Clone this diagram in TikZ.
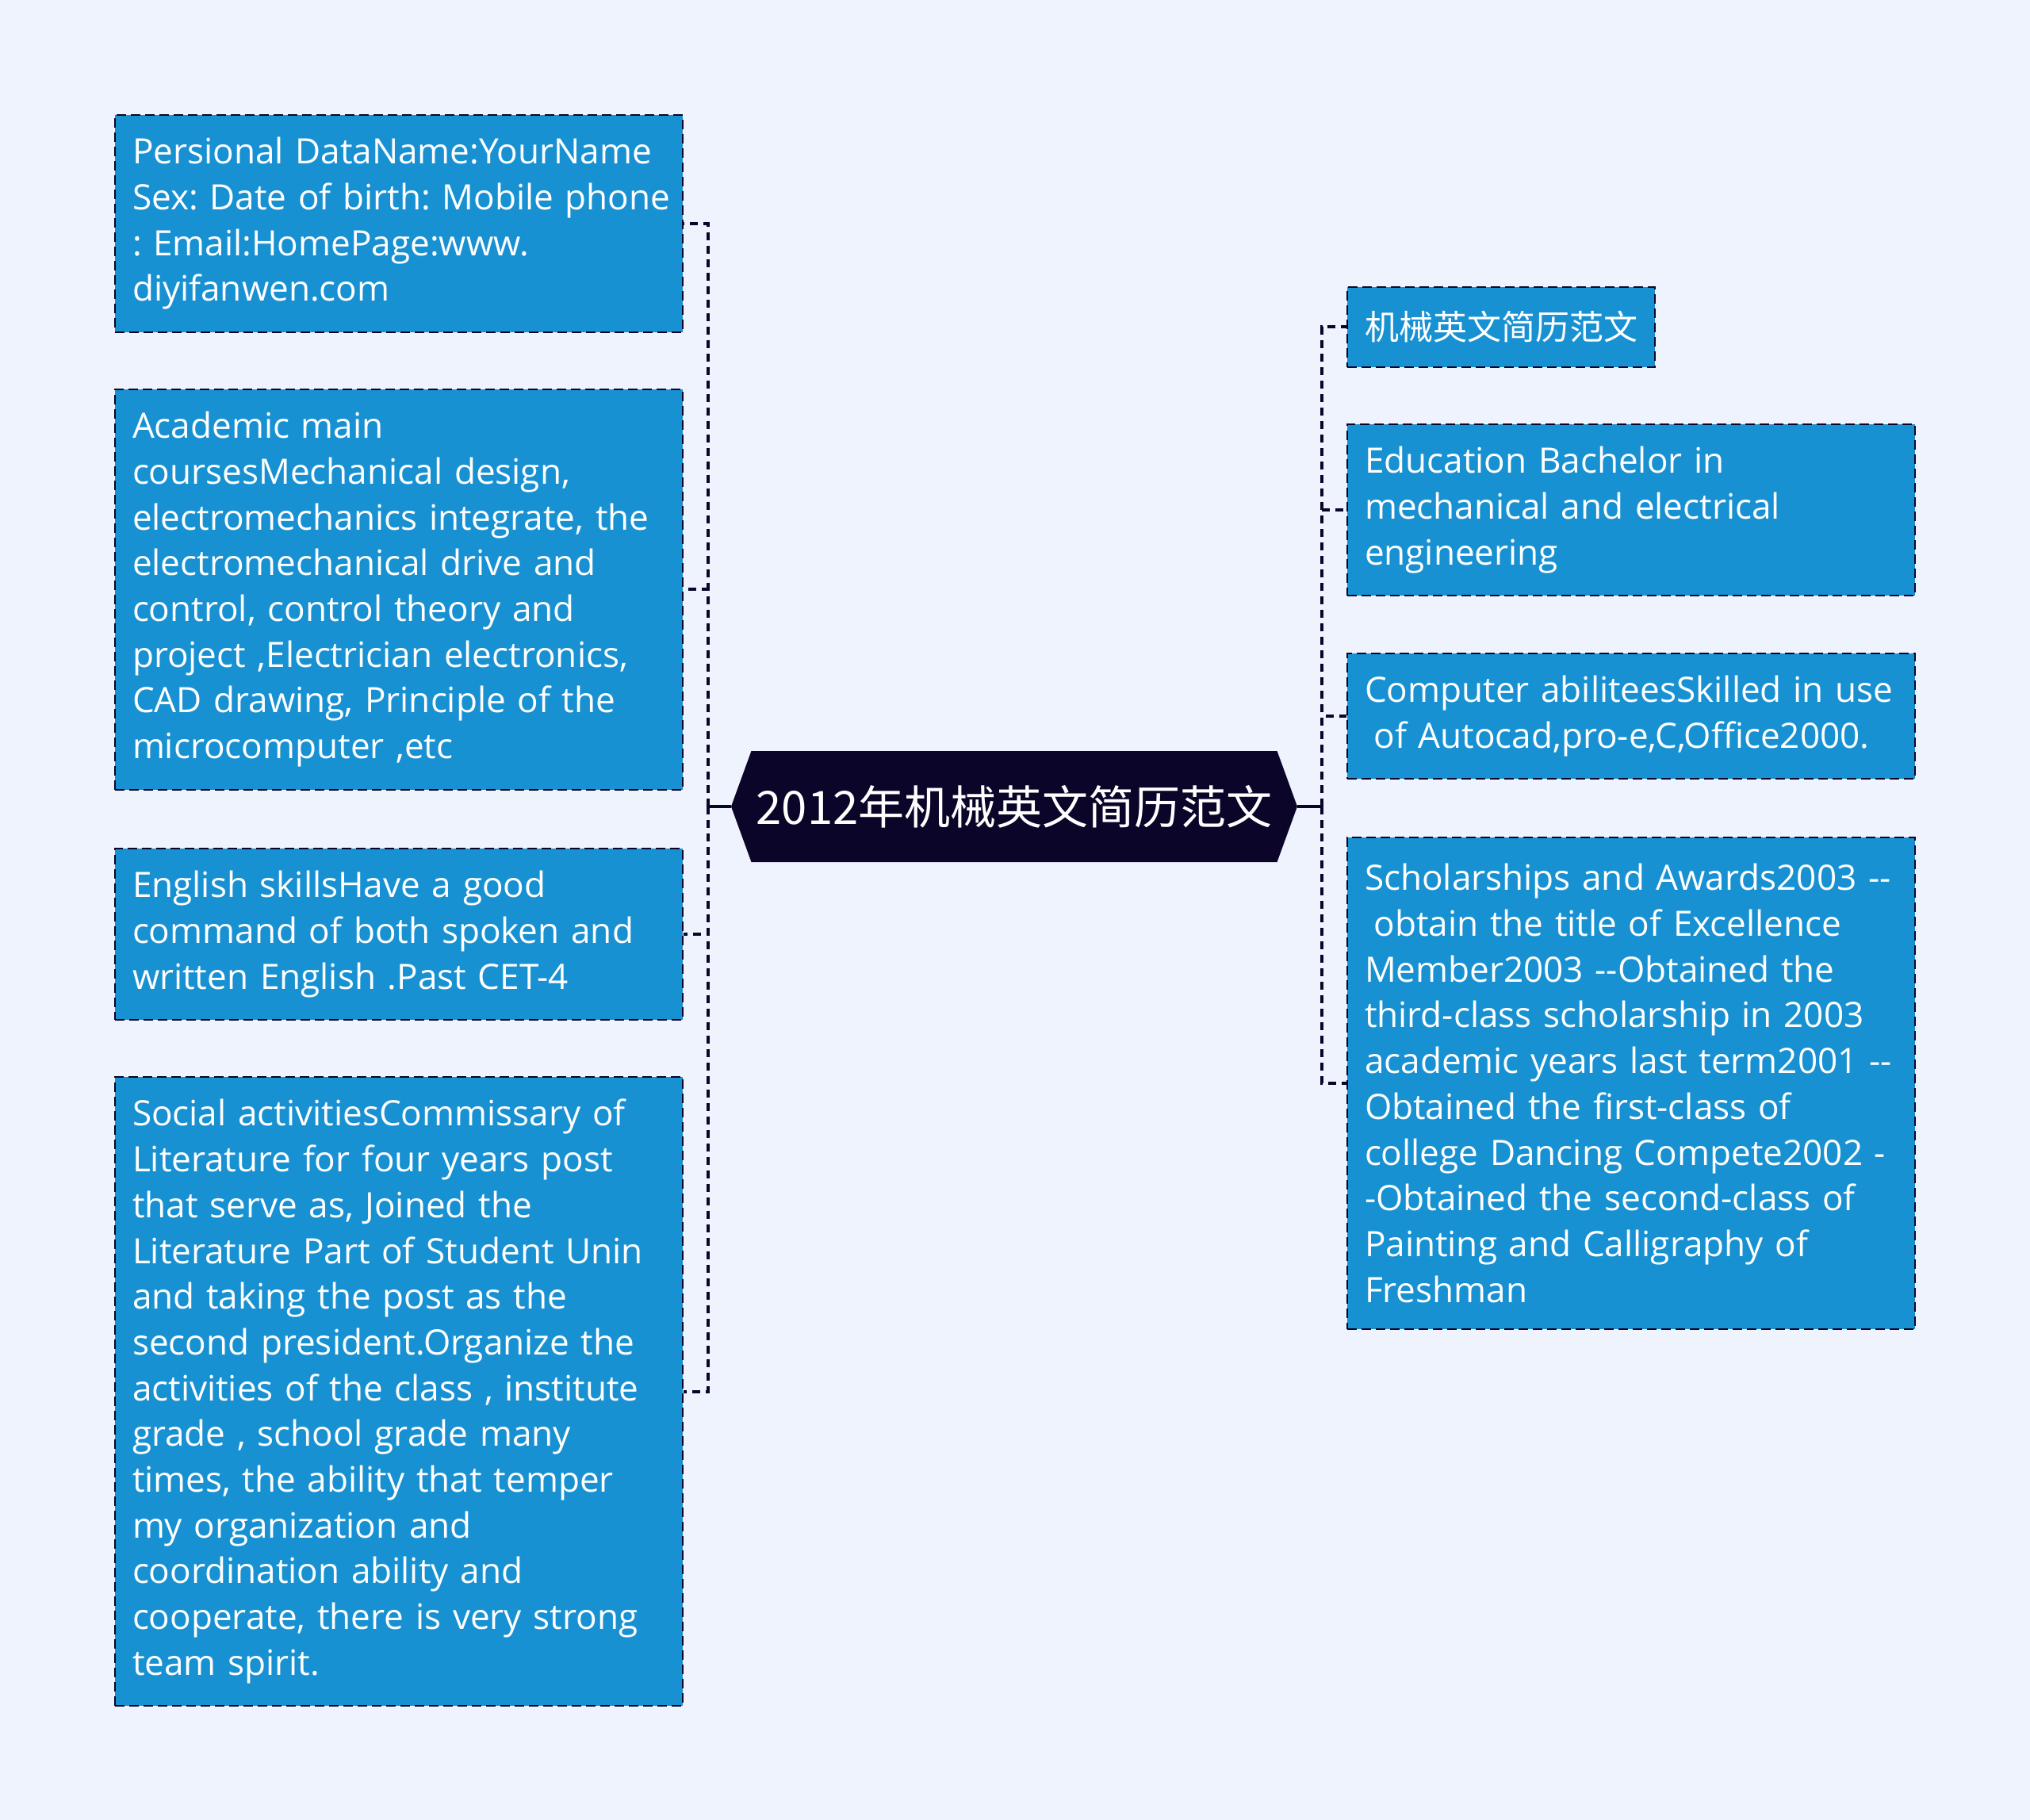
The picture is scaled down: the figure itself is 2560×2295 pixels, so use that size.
\documentclass[tikz,border=0pt]{standalone}
\usepackage{fontspec}
\setmainfont{Open Sans}[Scale=1.025]
\newfontfamily\cjk{Noto Sans CJK SC}
\usetikzlibrary{shapes.symbols}
\frenchspacing

\definecolor{pagebg}{RGB}{238,243,254}
\definecolor{leafblue}{RGB}{24,145,211}
\definecolor{rootnavy}{RGB}{11,6,41}

\begin{document}
\begin{tikzpicture}[x=0.5pt,y=-0.5pt,
  tag/.style={draw=rootnavy,line width=1pt,dash pattern=on 6pt off 3pt,fill=leafblue,text=white,
    anchor=north west,align=left,inner xsep=11pt,inner ysep=0pt,
    minimum height={#1*28.85pt+21.5pt},font=\fontsize{21.5pt}{28.85pt}\selectfont},
  leaf/.style={tag=#1,text width=336pt},
  root/.style={signal,signal to=west and east,signal pointer angle=140,fill=rootnavy,text=white,
    minimum width=357pt,minimum height=70pt,inner sep=0pt,font=\cjk\fontsize{29pt}{34pt}\selectfont},
  trunk/.style={draw=rootnavy,line width=2pt},
  twig/.style={draw=rootnavy,line width=2pt,dash pattern=on 5pt off 3.5pt}]
\fill[pagebg] (0,0) rectangle (2560,2295);
\useasboundingbox (0,0) rectangle (2560,2295);

\node[root] (root) at (1279,1017) {2012年机械英文简历范文};

% left side
\node[leaf=4] (l1) at (144,144) {Persional DataName:YourName\\\mbox{Sex: Date of birth: Mobile phone}\\: Email:HomePage:www.\\diyifanwen.com};
\node[leaf=8] (l2) at (144,490) {Academic main\\coursesMechanical design,\\electromechanics integrate, the\\electromechanical drive and\\control, control theory and\\project ,Electrician electronics,\\CAD drawing, Principle of the\\microcomputer ,etc};
\node[leaf=3] (l3) at (144,1069) {English skillsHave a good\\command of both spoken and\\written English .Past CET-4};
\node[leaf=13] (l4) at (144,1357) {Social activitiesCommissary of\\Literature for four years post\\that serve as, Joined the\\Literature Part of Student Unin\\and taking the post as the\\second president.Organize the\\activities of the class , institute\\grade , school grade many\\times, the ability that temper\\my organization and\\coordination ability and\\cooperate, there is very strong\\team spirit.};

% right side
\node[tag=1] (r1) at (1698,361) {\cjk 机械英文简历范文};
\node[leaf=3] (r2) at (1698,534) {Education Bachelor in\\mechanical and electrical\\engineering};
\node[leaf=2] (r3) at (1698,823) {Computer abiliteesSkilled in use\\\hspace*{0.26em}of Autocad,pro-e,C,Office2000.};
\node[leaf=10] (r4) at (1698,1055) {Scholarships and Awards2003 -{}-\\\hspace*{0.26em}obtain the title of Excellence\\Member2003 -{}-Obtained the\\third-class scholarship in 2003\\academic years last term2001 -{}-\\Obtained the first-class of\\college Dancing Compete2002 -\\-Obtained the second-class of\\Painting and Calligraphy of\\Freshman};

% connectors
\coordinate (lbus) at (893,1017);
\coordinate (rbus) at (1667,1017);
\draw[trunk] (root.west) -- (lbus);
\draw[trunk] (root.east) -- (rbus);
\foreach \n in {l1,l2,l3,l4}
  \draw[twig] (lbus) |- (\n.east);
\foreach \n in {r1,r2,r3,r4}
  \draw[twig] (rbus) |- (\n.west);
\end{tikzpicture}
\end{document}
